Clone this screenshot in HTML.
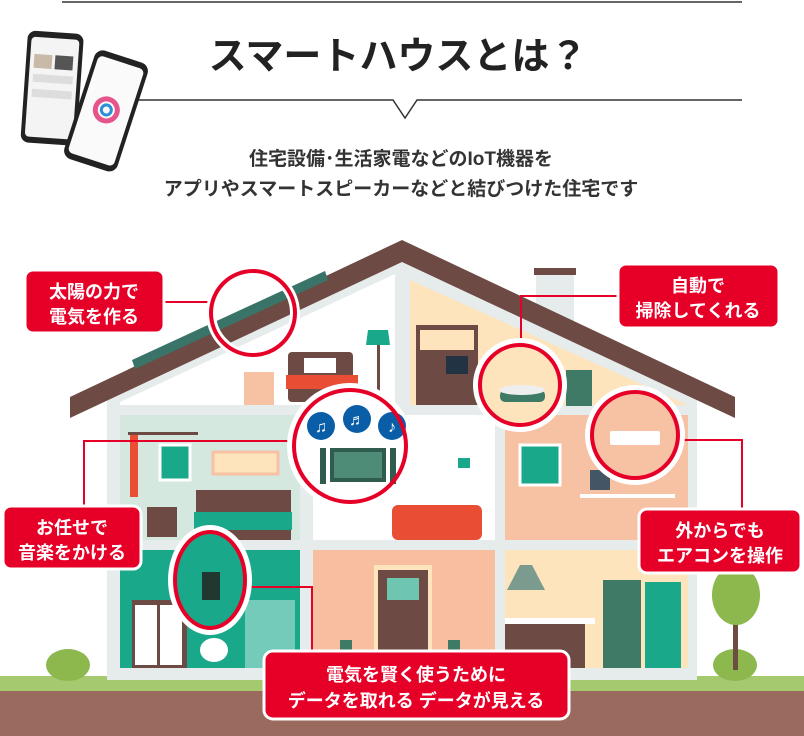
<!DOCTYPE html>
<html><head><meta charset="utf-8"><style>
body{margin:0;background:#fff;}
svg{display:block;}
text{font-family:"Liberation Sans","Noto Sans CJK JP",sans-serif;font-weight:bold;}
</style></head><body>
<svg width="804" height="736" viewBox="0 0 804 736" xmlns="http://www.w3.org/2000/svg">
<!-- header -->
<line x1="62" y1="2" x2="742" y2="2" stroke="#333" stroke-width="1.5"/>
<text x="398" y="69" font-size="38" text-anchor="middle" fill="#222">スマートハウスとは？</text>
<polyline points="132,100 393,100 405,118 417,100 742,100" fill="none" stroke="#333" stroke-width="1.5"/>
<text x="401" y="165" font-size="19" text-anchor="middle" fill="#333">住宅設備･生活家電などのIoT機器を</text>
<text x="401" y="195" font-size="19" text-anchor="middle" fill="#333">アプリやスマートスピーカーなどと結びつけた住宅です</text>
<!-- phones -->
<g transform="rotate(4 50 90)"><rect x="24" y="32" width="56" height="112" rx="8" fill="#222"/><rect x="28" y="38" width="48" height="100" rx="4" fill="#f4f4f4"/>
<rect x="32" y="55" width="18" height="14" fill="#c9b9a8"/><rect x="53" y="55" width="18" height="14" fill="#555"/><rect x="32" y="75" width="40" height="8" fill="#ddd"/><rect x="32" y="90" width="40" height="8" fill="#ddd"/></g>
<g transform="rotate(18 100 110)"><rect x="78" y="52" width="56" height="114" rx="9" fill="#222"/><rect x="82" y="58" width="48" height="102" rx="5" fill="#fafafa"/>
<circle cx="106" cy="108" r="11" fill="none" stroke="#e5548a" stroke-width="5"/><circle cx="106" cy="108" r="5" fill="none" stroke="#2d8fd6" stroke-width="3"/></g>

<!-- soil & grass -->
<rect x="0" y="690" width="804" height="46" fill="#9b6a5e"/>
<rect x="0" y="676" width="804" height="15" fill="#a4c96f"/>
<ellipse cx="68" cy="665" rx="22" ry="16" fill="#8cb84d"/>
<ellipse cx="735" cy="665" rx="22" ry="16" fill="#8cb84d"/>
<rect x="733" y="600" width="5" height="70" fill="#6d4c41"/>
<ellipse cx="736" cy="595" rx="24" ry="30" fill="#8cb84d"/>

<!-- house body -->
<rect x="536" y="268" width="38" height="60" fill="#e6ebeb"/><rect x="534" y="268" width="42" height="7" fill="#6e4a44"/>
<polygon points="107,400 402,262 697,400 697,680 107,680" fill="#e6ebeb"/>
<polygon points="120,402 395,274 395,405 120,405" fill="#fff"/>
<polygon points="410,280 688,405 410,405" fill="#fde4bd"/>
<rect x="120" y="415" width="180" height="125" fill="#d4e8df"/>
<rect x="313" y="415" width="182" height="125" fill="#fff"/>
<rect x="505" y="415" width="183" height="125" fill="#f7c1a4"/>
<rect x="120" y="550" width="180" height="118" fill="#19a98a"/>
<rect x="313" y="550" width="182" height="118" fill="#f7bfa0"/>
<rect x="505" y="550" width="183" height="118" fill="#fde4bd"/>
<polygon points="70,397 402,240 735,397 735,418 402,262 70,418" fill="#6e4a44"/>
<polygon points="132,360 325,271 328,280 135,369" fill="#3a7468"/>
<rect x="244" y="372" width="30" height="33" fill="#f7c1a4"/>
<rect x="288" y="352" width="65" height="50" rx="4" fill="#6e4a44"/><rect x="304" y="358" width="32" height="15" fill="#fff"/><rect x="286" y="375" width="72" height="14" fill="#e94e35"/>
<rect x="377" y="345" width="3" height="60" fill="#6e4a44"/><polygon points="368,330 388,330 390,345 366,345" fill="#19a98a"/>
<rect x="416" y="325" width="62" height="80" fill="#6e4a44"/><rect x="420" y="330" width="54" height="20" fill="#fde4bd"/><rect x="446" y="356" width="22" height="18" fill="#234"/>
<rect x="566" y="370" width="26" height="36" fill="#3f7a66"/>
<rect x="130" y="432" width="8" height="65" fill="#e94e35"/><rect x="128" y="432" width="70" height="3" fill="#6e4a44"/>
<rect x="160" y="445" width="30" height="35" fill="#19a98a" stroke="#fff" stroke-width="3"/>
<rect x="213" y="452" width="65" height="22" fill="#fde4bd" stroke="#f7c1a4" stroke-width="3"/>
<rect x="147" y="507" width="30" height="30" fill="#6e4a44"/>
<rect x="196" y="490" width="95" height="50" fill="#6e4a44"/><rect x="194" y="512" width="98" height="18" fill="#19a98a"/>
<rect x="392" y="505" width="90" height="35" rx="6" fill="#e94e35"/>
<rect x="458" y="458" width="12" height="10" fill="#19a98a"/>
<rect x="520" y="445" width="40" height="40" fill="#19a98a" stroke="#fff" stroke-width="3"/>
<rect x="590" y="470" width="20" height="20" fill="#456"/><rect x="580" y="494" width="95" height="4" fill="#fff"/>
<rect x="132" y="600" width="55" height="68" fill="#6e4a44"/><rect x="135" y="605" width="22" height="60" fill="#fff"/><rect x="160" y="605" width="22" height="60" fill="#fff"/>
<ellipse cx="214" cy="650" rx="14" ry="12" fill="#fff"/>
<rect x="245" y="600" width="50" height="68" fill="#74cbb9"/>
<rect x="374" y="565" width="58" height="103" fill="#fde4bd"/><rect x="378" y="570" width="50" height="98" fill="#6e4a44"/>
<rect x="387" y="578" width="32" height="22" fill="#6fc6b0"/>
<rect x="340" y="640" width="12" height="28" fill="#3f7a66"/><rect x="448" y="640" width="12" height="28" fill="#3f7a66"/>
<polygon points="520,565 532,565 545,590 507,590" fill="#7a9b8e"/>
<rect x="505" y="622" width="80" height="46" fill="#6e4a44"/><rect x="505" y="618" width="90" height="6" fill="#fff"/>
<rect x="603" y="580" width="38" height="88" fill="#3f7a66"/>
<rect x="645" y="582" width="36" height="86" fill="#19a98a"/>

<g stroke="#e60028" stroke-width="2" fill="none">
<line x1="163" y1="302" x2="212" y2="302"/>
<polyline points="619,296 521,296 521,344"/>
<polyline points="84,507 84,441 292,441"/>
<polyline points="680,440 742,440 742,510"/>
<polyline points="247,587 312,587 312,652"/>
</g>
<g stroke="#fff" stroke-width="10" fill="none">
<circle cx="253" cy="313" r="42"/><circle cx="350" cy="446" r="58"/><circle cx="520" cy="385" r="42"/><circle cx="635" cy="435" r="45"/><ellipse cx="210" cy="580" rx="37" ry="50"/>
</g>
<circle cx="350" cy="446" r="56" fill="#fff"/>
<circle cx="520" cy="385" r="40" fill="#fde4bd"/>
<circle cx="635" cy="435" r="43" fill="#f7c1a4"/>
<ellipse cx="210" cy="580" rx="35" ry="48" fill="#19a98a"/>
<g fill="#0a5ea8"><circle cx="321" cy="426" r="14"/><circle cx="357" cy="419" r="14"/><circle cx="392" cy="426" r="14"/></g>
<g fill="#fff" font-size="16" text-anchor="middle"><text x="321" y="432">♫</text><text x="357" y="425">♬</text><text x="392" y="432">♪</text></g>
<rect x="330" y="448" width="56" height="34" fill="#2f5c4f"/><rect x="334" y="452" width="48" height="26" fill="#4f8c77"/>
<rect x="320" y="448" width="6" height="36" fill="#2f5c4f"/><rect x="390" y="448" width="6" height="36" fill="#2f5c4f"/>
<rect x="500" y="390" width="45" height="12" rx="5" fill="#3f7a66"/><ellipse cx="522" cy="390" rx="23" ry="5" fill="#eee"/>
<rect x="610" y="431" width="50" height="14" rx="2" fill="#fff"/>
<rect x="202" y="572" width="18" height="28" fill="#203830"/>
<g stroke="#e60028" stroke-width="4" fill="none">
<circle cx="253" cy="313" r="42"/><circle cx="350" cy="446" r="56"/><circle cx="520" cy="385" r="40"/><circle cx="635" cy="435" r="43"/><ellipse cx="210" cy="580" rx="35" ry="48"/>
</g>

<g fill="#e60028" stroke="#fff" stroke-width="3">
<rect x="25" y="270" width="139" height="63" rx="8"/>
<rect x="618" y="264" width="161" height="64" rx="8"/>
<rect x="3" y="506" width="138" height="63" rx="8"/>
<rect x="639" y="509" width="162" height="64" rx="8"/>
<rect x="264" y="651" width="305" height="68" rx="9"/>
</g>
<g fill="#fff" font-size="18" text-anchor="middle">
<text x="94" y="298">太陽の力で</text><text x="94" y="323">電気を作る</text>
<text x="698" y="292">自動で</text><text x="698" y="317">掃除してくれる</text>
<text x="72" y="534">お任せで</text><text x="72" y="559">音楽をかける</text>
<text x="720" y="537">外からでも</text><text x="720" y="562">エアコンを操作</text>
<text x="416" y="681">電気を賢く使うために</text><text x="416" y="707">データを取れる  データが見える</text>
</g>
</svg>
</body></html>
